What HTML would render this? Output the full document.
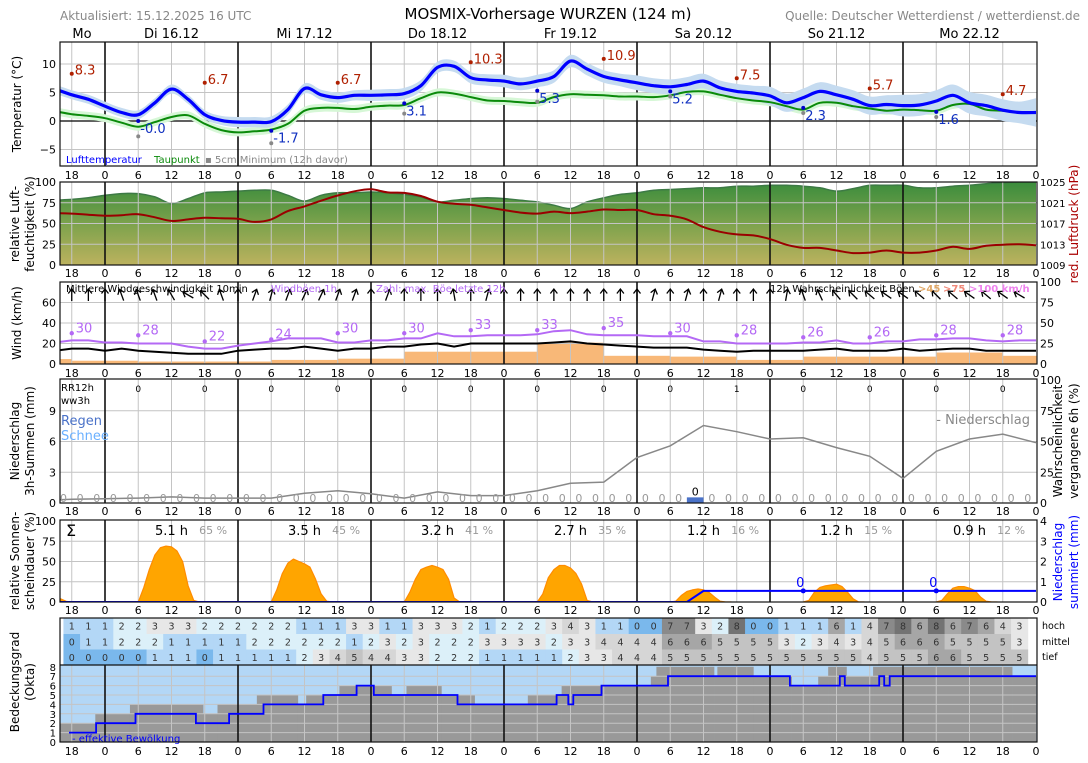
<!DOCTYPE html>
<html><head><meta charset="utf-8">
<style>
body{margin:0;background:#fff;}
svg{display:block;font-family:"DejaVu Sans","Liberation Sans",sans-serif;}
</style></head>
<body>
<svg id="c" width="1088" height="763" viewBox="0 0 1088 763"></svg>
<script>
// ---------- data (3h series start at t=-9 h relative to Di 16.12 00h) ----------
const temp=[5.6,4.6,3.8,2.6,1.5,1.1,3.2,5.6,3.8,1.1,0.1,-0.2,-0.2,-0.1,2.0,5.7,4.6,4.1,4.5,4.5,4.6,4.8,6.2,9.4,9.6,7.6,7.2,7.0,6.5,7.0,7.8,10.5,9.1,7.8,7.2,6.7,6.2,6.0,6.4,7.0,5.8,5.2,4.9,4.4,3.2,4.1,5.2,4.6,3.8,2.7,2.9,2.7,2.8,3.5,4.5,3.2,2.7,1.9,1.5,1.5];
const dew=[1.7,1.2,0.9,0.5,-0.3,-1.0,-0.2,0.7,1.0,-0.5,-1.6,-2.0,-1.8,-1.5,-0.5,1.8,2.3,2.3,2.1,2.5,2.7,2.8,4.0,5.0,4.8,4.2,3.6,3.5,3.3,3.2,4.2,4.7,4.6,4.5,4.3,4.3,4.2,4.5,5.1,5.2,4.6,4.0,3.6,3.3,2.6,2.0,3.2,3.2,2.6,2.2,1.8,2.0,1.9,1.8,2.8,3.0,2.0,1.8,1.5,1.5];
const tempSpread=[0.8,0.8,0.9,1.0,1.1,1.3,1.6,1.9,2.5];
const maxVals=[8.3,6.7,6.7,10.3,10.9,7.5,5.7,4.7];
const minVals=[-0.0,-1.7,3.1,5.3,5.2,2.3,1.6];
const min5cm=[-2.7,-3.9,1.3,3.4,4.3,1.4,0.7];
const hum=[78,79,81,84,86,86,82,74,80,87,88,89,90,90,84,77,84,87,87,88,87,85,82,76,78,80,81,80,78,76,72,68,76,81,85,87,90,91,92,93,93,95,95,96,96,95,93,89,92,96,96,96,93,93,95,96,98,99,100,100];
const press=[1019.0,1018.9,1018.7,1018.5,1018.6,1018.8,1018.2,1017.5,1017.8,1018.1,1018.0,1017.9,1017.3,1017.8,1019.4,1020.3,1021.4,1022.4,1023.2,1023.6,1023.0,1022.9,1022.3,1021.2,1020.8,1020.6,1020.1,1019.6,1019.1,1018.9,1019.3,1019.0,1019.3,1019.7,1019.6,1019.6,1018.8,1018.5,1017.8,1016.3,1015.4,1014.9,1014.7,1014.0,1012.9,1012.3,1012.3,1011.8,1011.3,1011.4,1011.8,1011.4,1011.4,1011.8,1012.5,1012.1,1012.7,1012.9,1013.0,1012.8];
const windMean=[13,15,15,13,15,13,12,11,10,10,10,13,14,15,15,17,15,13,15,15,17,17,19,20,17,20,20,20,20,20,21,22,20,19,18,17,16,16,16,14,13,12,13,13,13,13,14,15,13,13,13,15,13,14,15,15,13,13,13,13];
const windGust=[21,23,23,21,21,20,20,20,17,15,15,18,20,22,25,25,25,21,21,23,23,25,25,30,27,27,28,28,28,29,32,33,29,28,28,28,27,27,27,22,22,20,20,20,20,21,21,23,20,20,22,22,24,24,25,25,23,22,23,23];
const gustMax=[30,28,22,24,30,30,33,33,35,30,28,26,26,28,28];
const gustProb=[6,4,3,3,5,6.5,15,15,26,10,9,5,9,9,14,10];
const windDir=[0,0,0,-20,-20,-20,-30,-60,-45,-20,0,20,15,20,25,25,20,20,0,20,0,0,0,-10,0,15,0,0,0,0,0,0,0,0,0,15,0,15,0,15,0,0,0,10,-20,-25,-40,-45,-50,-55,-55,-50,-45,-50,-55,-50,-55,-60];
const precipProb=[2,3,3.5,4,5,4,4,4,8,10,7.5,4,9,6,6,10,16,17,37,46.5,63,58,52,53,45,38,20,42,52,56,49];
const precip3h=[0,0,0,0,0,0,0,0,0,0,0,0,0,0,0,0,0,0,0,0,0,0,0,0,0,0,0,0,0,0,0,0,0,0,0,0,0,0,0.55,0,0,0,0,0,0,0,0,0,0,0,0,0,0,0,0,0,0,0,0];
const rr12=[0,0,0,0,0,0,0,0,0,1,0,0,0,0];
const sunPre=[4,1,0];
const sunDays=[
 [0,18,40,58,67,69,68,63,50,20,2,0],
 [0,15,35,48,53,50,47,43,28,10,1,0],
 [0,12,28,40,43,45,43,40,28,5,0,0],
 [0,10,30,40,45,45,42,35,22,2,0,0],
 [0,1,8,13,15,16,15,12,6,1,0,0],
 [0,2,12,18,20,21,22,19,12,4,0,0],
 [0,2,10,17,19,19,17,14,6,1,0,0]];
const sunHours=["5.1","3.5","3.2","2.7","1.2","1.2","0.9"];
const sunPct=[65,45,41,35,16,15,12];
const cloudHigh=[1,1,1,2,2,3,3,3,2,2,2,2,2,2,1,1,1,3,3,1,1,3,3,3,2,1,2,2,2,3,4,3,1,1,0,0,7,7,3,2,8,0,0,1,1,1,6,1,4,7,8,6,8,6,7,6,4,3];
const cloudMid=[0,1,1,2,2,2,1,1,1,1,1,2,2,2,2,2,2,1,2,3,2,3,2,2,2,3,3,3,3,2,3,3,4,4,4,4,6,6,6,5,5,5,5,3,2,3,4,3,4,5,6,6,6,5,5,5,5,3];
const cloudLow=[0,0,0,0,0,1,1,1,0,1,1,1,1,1,2,3,4,5,4,4,3,3,2,2,2,1,1,1,1,1,2,3,3,4,4,4,5,5,5,5,5,5,5,5,5,5,5,5,4,5,5,5,6,6,5,5,5,5];
const totStart=[-8.1,-1.75,4.5,17.7,20.3,27.4,34.8,36.3,42.3,51.7,54.4,60.7,66.7,76.3,82.4,98.5,99.5,109.9,110.5,117,123.9,128.7,130.5,133.8,138.6,163.7];
const totVal=[2,3,4,3,4,5,4,5,6,5,6,5,4,5,6,7,8,7,8,7,6,7,8,7,8,7];
const effStart=[-6.5,-1.6,5.5,16.4,22.4,28.6,39.4,45.4,48.5,63.6,81.5,83.6,84.5,89.6,101.6,123.6,132.6,133.5,139.7,140.6,141.6];
const effVal=[1,2,3,2,3,4,5,6,5,4,5,4,5,6,7,6,7,6,7,6,7];
const dayNames=["Di 16.12","Mi 17.12","Do 18.12","Fr 19.12","Sa 20.12","So 21.12","Mo 22.12"];

// ---------- helpers ----------
const NS='http://www.w3.org/2000/svg';
const svg=document.getElementById('c');
function mk(tag,at,par){const e=document.createElementNS(NS,tag);for(const k in at)e.setAttribute(k,at[k]);(par||svg).appendChild(e);return e;}
function tx(s,x,y,size,fill,anchor,par){const e=mk('text',{x:x,y:y,'font-size':size,fill:fill,'text-anchor':anchor||'start'},par);e.textContent=s;return e;}
function rtx(s,x,y,size,fill,par){const e=mk('text',{transform:`translate(${x},${y}) rotate(-90)`,'font-size':size,fill:fill,'text-anchor':'middle'},par);e.textContent=s;return e;}
const X=t=>105+t*133/24;
const L=60,R=1037;
const T3=k=>-9+3*k;
const yT=v=>121-v*5.7, yH=v=>265-v*0.83, yP=p=>182+(1025-p)*83/16;
const yW=v=>364-v*82/80, yWp=p=>364-p*0.82;
const yR=m=>503-m*124/12.1, yRp=p=>503-p*1.23;
const yS=p=>602-p*0.81, ySum=m=>602-m*20.25;
const yO=v=>742-v*9.4;
function line(ts,vals,yf){return ts.map((t,i)=>(i?'L':'M')+X(t).toFixed(1)+','+yf(vals[i]).toFixed(1)).join('');}
function smooth(ts,vals,yf){
  const P=ts.map((t,i)=>[X(t),yf(vals[i])]);
  let d='M'+P[0][0].toFixed(1)+','+P[0][1].toFixed(1);
  for(let i=0;i<P.length-1;i++){
    const p0=P[Math.max(0,i-1)],p1=P[i],p2=P[i+1],p3=P[Math.min(P.length-1,i+2)];
    const c1x=p1[0]+(p2[0]-p0[0])/6,c1y=p1[1]+(p2[1]-p0[1])/6;
    const c2x=p2[0]-(p3[0]-p1[0])/6,c2y=p2[1]-(p3[1]-p1[1])/6;
    d+='C'+c1x.toFixed(1)+','+c1y.toFixed(1)+' '+c2x.toFixed(1)+','+c2y.toFixed(1)+' '+p2[0].toFixed(1)+','+p2[1].toFixed(1);
  }
  return d;
}

const defs=mk('defs',{});
const panels=[['temp',42,166],['hum',182,265],['wind',282,364],['precip',379,503],['sun',520,602],['cloud',618,742]];
panels.forEach(p=>{const cp=mk('clipPath',{id:'cp-'+p[0]},defs);mk('rect',{x:L,y:p[1],width:R-L,height:p[2]-p[1]},cp);});
const gr=mk('linearGradient',{id:'humg',x1:0,y1:0,x2:0,y2:1},defs);
mk('stop',{offset:'0','stop-color':'#3a8c3c'},gr);mk('stop',{offset:'0.5','stop-color':'#7ca24c'},gr);mk('stop',{offset:'1','stop-color':'#bcb25e'},gr);

// ---------- header ----------
let e;
e=tx('Aktualisiert: 15.12.2025 16 UTC',60,20,12,'#888');


e=tx('MOSMIX-Vorhersage WURZEN (124 m)',548,19,15,'#000','middle');


e=tx('Quelle: Deutscher Wetterdienst / wetterdienst.de',1080,20,12,'#888','end');


e=tx('Mo',82,38,13,'#000','middle');


dayNames.forEach((d,i)=>{const el=tx(d,X(12+24*i),38,13,'#000','middle');

});

// ---------- grid + frames ----------
function grid(top,bot,yvals,name){
  const g=mk('g',{});
  
  
  yvals.forEach(y=>mk('line',{x1:L,x2:R,y1:y,y2:y,stroke:'#c4c4c4','stroke-width':1},g));
  for(let t=-6;t<=168;t+=6){ if(((t%24)+24)%24===0)continue; mk('line',{x1:X(t),x2:X(t),y1:top,y2:bot,stroke:'#c4c4c4','stroke-width':1},g);}
  return g;
}
function dayLines(top,bot){const g=mk('g',{});
  
  
  for(let t=0;t<168;t+=24)mk('line',{x1:X(t),x2:X(t),y1:top,y2:bot,stroke:'#111','stroke-width':1.6},g);}
function frame(top,bot,name){const r=mk('rect',{x:L,y:top,width:R-L,height:bot-top,fill:'none',stroke:'#111','stroke-width':1.2});
  
  }
function hourTicks(y,name){const g=mk('g',{});
  
  
  for(let t=-6;t<=168;t+=6){tx(String(((t%24)+24)%24),X(t),y,11,'#000','middle',g);}}
function leftTicks(vals,yf,name,size){const g=mk('g',{});
  
  
  vals.forEach(v=>tx(String(v).replace('-','−'),56,yf(v)+4,size||11,'#000','end',g));}
function rightTicks(vals,yf,name,size){const g=mk('g',{});
  
  
  vals.forEach(v=>tx(String(v),1040,yf(v)+4,size||11,'#000','start',g));}

// ---------- panel 1 temperature ----------
grid(42,166,[yT(10),yT(5),yT(-5)],'temp');
mk('line',{x1:L,x2:R,y1:yT(0),y2:yT(0),stroke:'#000','stroke-width':1.2});
dayLines(42,166);
const ts60=temp.map((_,k)=>T3(k));
const gT=mk('g',{'clip-path':'url(#cp-temp)'});


const sp=ts60.map(t=>tempSpread[Math.min(8,Math.max(0,Math.floor((t+24)/24)))]);
function band(vals,spr,yf,col,name){
  const up=smooth(ts60,vals.map((v,i)=>v+spr[i]),yf);
  const rt=ts60.slice().reverse(), rv=vals.map((v,i)=>v-spr[i]).reverse();
  const dn=smooth(rt,rv,yf).replace('M','L');
  const p=mk('path',{d:up+dn+'Z',fill:col},gT);
  
  
}
band(dew,dew.map(()=>0.7),yT,'#d6f7d6','dewpoint-band');
band(temp,sp,yT,'#c5dbf0','temperature-band');
e=mk('path',{d:smooth(ts60,dew,yT),fill:'none',stroke:'#0a8a0a','stroke-width':2},gT);


e=mk('path',{d:smooth(ts60,temp,yT),fill:'none',stroke:'#0000ff','stroke-width':3.2,'stroke-linejoin':'round'},gT);


maxVals.forEach((v,i)=>{const t=-6+24*i;const g=mk('g',{},svg);
  
  
  mk('circle',{cx:X(t),cy:yT(v),r:2,fill:'#b02000'},g);tx(v.toFixed(1),X(t)+3,yT(v)+1,13,'#b02000','start',g);});
minVals.forEach((v,i)=>{const t=6+24*i;const g=mk('g',{},svg);
  
  
  mk('circle',{cx:X(t),cy:yT(min5cm[i]),r:2,fill:'#888'},g);
  mk('circle',{cx:X(t),cy:yT(v),r:2,fill:'#0000cc'},g);
  tx((v===0?'-0.0':v.toFixed(1)),X(t)+2,yT(v)+12,13,'#1030c0','start',g);});
e=tx('Lufttemperatur',66,163,10,'#0000ff');


e=tx('Taupunkt',154,163,10,'#0a8a0a');


e=tx('▪ 5cm Minimum (12h davor)',205,163,10,'#888');


frame(42,166,'temp');
leftTicks([10,5,0,-5],yT,'temp');
hourTicks(179,'temp');
e=rtx('Temperatur (°C)',21,104,12,'#000');



// ---------- panel 2 humidity / pressure ----------
const gH=mk('g',{'clip-path':'url(#cp-hum)'});


e=mk('path',{d:'M'+X(-9)+',265'+smooth(ts60,hum,yH).replace('M','L')+'L'+X(168)+',265Z',fill:'url(#humg)'},gH);


e=mk('path',{d:smooth(ts60,hum,yH),fill:'none',stroke:'#3d7a45','stroke-width':1.5},gH);


grid(182,265,[yH(25),yH(50),yH(75)],'hum');
dayLines(182,265);
e=mk('path',{d:smooth(ts60,press,yP),fill:'none',stroke:'#9a0000','stroke-width':2,'clip-path':'url(#cp-hum)'});


frame(182,265,'hum');
leftTicks([100,75,50,25,0],yH,'hum');
rightTicks([1025,1021,1017,1013,1009],yP,'pressure',10);
hourTicks(277,'hum');
e=rtx('relative Luft-',19,224,12,'#000');


e=rtx('feuchtigkeit (%)',34,224,12,'#000');


e=rtx('red. Luftdruck (hPa)',1078,224,12,'#aa0000');



// ---------- panel 3 wind ----------
const gWb=mk('g',{'clip-path':'url(#cp-wind)'});


gustProb.forEach((p,i)=>{const t=-18+12*i;const r=mk('rect',{x:X(t),y:yWp(p),width:X(t+12)-X(t),height:364-yWp(p),fill:'#f8b878'},gWb);

});
grid(282,364,[yW(20),yW(40),yW(60)],'wind');
dayLines(282,364);
const gW=mk('g',{'clip-path':'url(#cp-wind)'});


e=mk('path',{d:line(ts60,windGust,yW),fill:'none',stroke:'#b469f5','stroke-width':2},gW);


e=mk('path',{d:line(ts60,windMean,yW),fill:'none',stroke:'#000','stroke-width':2},gW);


gustMax.forEach((v,i)=>{const t=-6+12*i;const g=mk('g',{});
  
  
  mk('circle',{cx:X(t),cy:yW(v),r:2.2,fill:'#b469f5'},g);tx(String(v),X(t)+4,yW(v)-1,13,'#b469f5','start',g);});
windDir.forEach((a,i)=>{const t=-6+3*i;const g=mk('g',{transform:`translate(${X(t)},${295}) rotate(${a})`,stroke:'#000','stroke-width':1.3,fill:'none'});
  
  
  mk('line',{x1:0,y1:6,x2:0,y2:-6},g);mk('polyline',{points:'-3.5,-1.5 0,-6 3.5,-1.5'},g);});
e=tx('Mittlere Windgeschwindigkeit 10min',66,292,10,'#000');


e=tx('Windböen 1h',271,292,10,'#b469f5');


e=tx('Zahl: max. Böe letzte 12h',376,292,10,'#b469f5');


e=tx('12h Wahrscheinlichkeit Böen',770,292,10,'#000');


e=tx('>45',918,292,10,'#e0a868');e.setAttribute('font-weight','bold');


e=tx('>75',943,292,10,'#f08878');e.setAttribute('font-weight','bold');


e=tx('>100 km/h',969,292,10,'#ee82ee');e.setAttribute('font-weight','bold');


frame(282,364,'wind');
leftTicks([60,40,20,0],yW,'wind');
rightTicks([100,75,50,25,0],yWp,'wind-prob',11);
hourTicks(377,'wind');
e=rtx('Wind (km/h)',21,323,12,'#000');



// ---------- panel 4 precipitation ----------
grid(379,503,[yR(3),yR(6),yR(9)],'precip');
dayLines(379,503);
const gR=mk('g',{'clip-path':'url(#cp-precip)'});


const probT=precipProb.map((_,i)=>-12+6*i);
e=mk('path',{d:line(probT,precipProb,yRp),fill:'none',stroke:'#888','stroke-width':1.5},gR);


precip3h.forEach((v,k)=>{const c=-7.5+3*k;
  if(v>0){const b=mk('rect',{x:X(c-1.5),y:yR(v),width:X(c+1.5)-X(c-1.5),height:503-yR(v),fill:'#4a72c8'},gR);
    
    
    const l=tx(String(Math.floor(v)),X(c),yR(v)-2,11,'#000','middle',gR);
    
    }
  else{const l=tx('0',X(c),502,11,'#9a9a9a','middle',gR);
    
    }});
rr12.forEach((v,i)=>{const l=tx(String(v),X(6+12*i),392,9,'#000','middle');
  
  });
e=tx('RR12h',61,391,10,'#000');


e=tx('ww3h',61,404,10,'#000');


e=tx('Regen',61,425,13,'#4a72c8');


e=tx('Schnee',61,440,13,'#6ab0ff');


e=tx('- Niederschlag',1030,424,13,'#888','end');


frame(379,503,'precip');
leftTicks([9,6,3,0],yR,'precip');
rightTicks([100,75,50,25,0],yRp,'precip-prob',11);
hourTicks(515,'precip');
e=rtx('Niederschlag',19,441,12,'#000');


e=rtx('3h-Summen (mm)',34,441,12,'#000');


e=rtx('Wahrscheinlichkeit',1062,441,12,'#000');


e=rtx('vergangene 6h (%)',1078,441,12,'#000');



// ---------- panel 5 sunshine ----------
grid(520,602,[yS(25),yS(50),yS(75)],'sun');
dayLines(520,602);
const gS=mk('g',{'clip-path':'url(#cp-sun)'});


{const pts=sunPre.map((v,i)=>X(-8+i)+','+yS(v));
 const p=mk('polygon',{points:[X(-8)+',602'].concat(pts).join(' '),fill:'#ffa500',stroke:'#ff8c00','stroke-width':1},gS);
 
 }
sunDays.forEach((arr,d)=>{const pts=arr.map((v,h)=>X(24*d+6+h).toFixed(1)+','+yS(v).toFixed(1));
  const p=mk('polygon',{points:pts.join(' '),fill:'#ffa500',stroke:'#ff8c00','stroke-width':1.2,'stroke-linejoin':'round'},gS);
  
  });
{let acc=0;const ts=[-9],vs=[0];precip3h.forEach((v,k)=>{acc+=v;ts.push(-6+3*k);vs.push(acc);});ts.push(168);vs.push(acc);
 e=mk('path',{d:line(ts,vs,ySum),fill:'none',stroke:'#0000ff','stroke-width':2},gS);
 
 
 [126,150].forEach(t=>{const g=mk('g',{});
   
   
   mk('circle',{cx:X(t),cy:ySum(acc),r:2.5,fill:'#0000ff'},g);tx(String(Math.floor(acc)),X(t)-3,ySum(acc)-4,13,'#0000ff','middle',g);});}
sunHours.forEach((h,d)=>{const l=tx(h+' h',X(12+24*d),535,13,'#000','middle');
  
  
  const q=tx(sunPct[d]+' %',X(19.5+24*d),534,11,'#999','middle');
  
  });
e=tx('Σ',66,536,16,'#000');


frame(520,602,'sun');
leftTicks([100,75,50,25,0],yS,'sun');
rightTicks([4,3,2,1,0],ySum,'precip-sum',11);
hourTicks(614,'sun');
e=rtx('relative Sonnen-',19,561,12,'#000');


e=rtx('scheindauer (%)',34,561,12,'#000');


e=rtx('Niederschlag',1062,562,12,'#0000ff');


e=rtx('summiert (mm)',1078,562,12,'#0000ff');



// ---------- panel 6 cloud table + okta ----------
const cloudCol=['#7ab8ec','#b3d7f6','#dcf0f9','#e7e7e7','#d6d6d6','#c3c3c3','#a6a6a6','#8a8a8a','#737373'];
const gC=mk('g',{'clip-path':'url(#cp-cloud)'});


[[cloudHigh,618,634],[cloudMid,634,649.5],[cloudLow,649.5,665]].forEach(row=>{
  row[0].forEach((v,i)=>{const c=-6+3*i;
    const r=mk('rect',{x:X(c-1.5),y:row[1],width:X(c+1.5)-X(c-1.5)+0.5,height:row[2]-row[1],fill:cloudCol[v]},gC);
    
    
    const l=tx(String(v),X(c),(row[1]+row[2])/2+3.5,9.5,'#333','middle',gC);
    
    });});
e=mk('rect',{x:L,y:665,width:R-L,height:77,fill:'#b3d7f6'},gC);


totVal.forEach((v,i)=>{const a=totStart[i],b=(i+1<totStart.length?totStart[i+1]:168);
  const r=mk('rect',{x:X(a),y:yO(v),width:X(b)-X(a)+0.3,height:742-yO(v),fill:'#999999'},gC);
  
  });
{const g=mk('g',{});
 
 
 for(let v=1;v<8;v++)mk('line',{x1:L,x2:R,y1:yO(v),y2:yO(v),stroke:'#c4c4c4','stroke-width':1},g);
 for(let t=-6;t<=168;t+=6){if(((t%24)+24)%24===0)continue;mk('line',{x1:X(t),x2:X(t),y1:665,y2:742,stroke:'#c4c4c4','stroke-width':1},g);}}
dayLines(665,742);
{let d='';effVal.forEach((v,i)=>{const a=effStart[i],b=(i+1<effStart.length?effStart[i+1]:168);d+=(i?'L':'M')+X(a).toFixed(1)+','+yO(v).toFixed(1)+'L'+X(b).toFixed(1)+','+yO(v).toFixed(1);});
 e=mk('path',{d:d,fill:'none',stroke:'#0000ff','stroke-width':1.8,'clip-path':'url(#cp-cloud)'});
 
 }
e=tx('- effektive Bewölkung',72,742,10,'#0000ff');


mk('line',{x1:L,x2:R,y1:665,y2:665,stroke:'#111','stroke-width':1.2});
frame(618,742,'cloud');
['hoch','mittel','tief'].forEach((s,i)=>{const l=tx(s,1042,[629,645,660][i],9.5,'#000');
  
  });
leftTicks([0,1,2,3,4,5,6,7,8],yO,'okta',10);
hourTicks(755,'okta');
e=rtx('Bedeckungsgrad',19,682,12,'#000');


e=rtx('(Okta)',34,682,12,'#000');


</script>
</body></html>
